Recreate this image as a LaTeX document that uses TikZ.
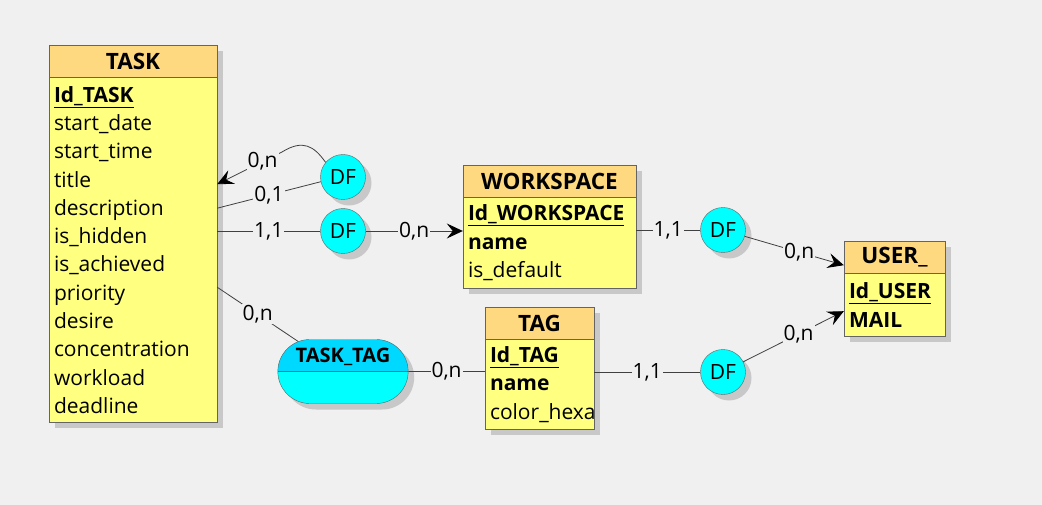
\documentclass[tikz,border=0pt]{standalone}
\usepackage{fontspec}
\setmainfont{Open Sans}
\usetikzlibrary{shapes.misc, arrows.meta, positioning, calc, shadows}
\definecolor{bgcol}{RGB}{240,240,240}
\definecolor{headcol}{RGB}{255,217,128}
\definecolor{bodycol}{RGB}{255,255,128}
\definecolor{edgecol}{RGB}{100,100,100}
\definecolor{shadecol}{RGB}{200,200,200}
\definecolor{dfcol}{RGB}{0,255,255}
\definecolor{assoccol}{RGB}{0,217,255}

\begin{document}
\begin{tikzpicture}[
        x=1pt, y=-1pt,
        shade/.style={drop shadow={shadow xshift=6pt, shadow yshift=-6pt, fill=shadecol, opacity=1}},
        enthead/.style={rectangle, draw=edgecol, fill=headcol, minimum height=32pt, inner sep=0pt, font=\fontsize{22.5}{26}\selectfont\bfseries, shade},
        entbody/.style={rectangle, draw=edgecol, fill=bodycol, anchor=north, inner xsep=5pt, inner ysep=0pt, align=left, font=\fontsize{21}{28.3}\selectfont, shade},
        df/.style={circle, draw=edgecol, fill=dfcol, minimum size=45pt, inner sep=0pt, font=\fontsize{21}{24}\selectfont, shade},
        assoc/.style={rounded rectangle, draw=edgecol, fill=dfcol, minimum width=137pt, minimum height=64pt, shade,
            path picture={\fill[assoccol] (path picture bounding box.north west) rectangle (path picture bounding box.east);
                \draw[edgecol] (path picture bounding box.west) -- (path picture bounding box.east);}},
        link/.style={draw=black!75, line width=0.8pt},
        arr/.style={link, -{Stealth[length=16pt, width=15pt, inset=6pt, black]}},
        card/.style={fill=bgcol, inner sep=1pt, font=\fontsize{21}{24}\selectfont}
    ]
        \fill[bgcol] (0,0) rectangle (1042,505);
        \useasboundingbox (0,0) rectangle (1042,505);
        \node[enthead, minimum width=168pt] (task) at (133,61) {TASK};
        \node[entbody, text width=158pt, minimum height=345pt] (taskbody) at (task.south) {\textbf{\underline{Id\_TASK}}\\start\_date\\start\_time\\title\\description\\is\_hidden\\is\_achieved\\priority\\desire\\concentration\\workload\\deadline};
        \node[enthead, minimum width=173pt] (workspace) at (549.5,181) {WORKSPACE};
        \node[entbody, text width=163pt, minimum height=91pt] (workspacebody) at (workspace.south) {\textbf{\underline{Id\_WORKSPACE}}\\\textbf{name}\\is\_default};
        \node[enthead, minimum width=101pt] (user) at (894.5,257) {USER\_};
        \node[entbody, text width=91pt, minimum height=63pt] (userbody) at (user.south) {\textbf{\underline{Id\_USER}}\\\textbf{MAIL}};
        \node[enthead, minimum width=109pt] (tag) at (539.5,323) {TAG};
        \node[entbody, text width=99pt, minimum height=90pt] (tagbody) at (tag.south) {\textbf{\underline{Id\_TAG}}\\\textbf{name}\\color\_hexa};
        \node[df] (df1) at (343,177) {DF};
        \node[df] (df2) at (343,231) {DF};
        \node[df] (df3) at (723,230) {DF};
        \node[df] (df4) at (723,372) {DF};
        \node[assoc] (tasktag) at (343,371.5) {};
        \node[font=\fontsize{20}{24}\selectfont\bfseries] (tasktagname) at (343,356.5) {TASK\_TAG};
        \draw[arr] (df1.140) .. controls (314,146) and (303,139) .. (282,152) -- node[card, pos=0.3] {0,n} ([yshift=-107pt]taskbody.north east);
        \draw[link] (df1.192) -- node[card] {0,1} ([yshift=-131pt]taskbody.north east);
        \draw[link] (df2) -- node[card] {1,1} (taskbody.east |- df2);
        \draw[arr] (df2) -- node[card] {0,n} (workspacebody.west |- df2);
        \draw[link] (workspacebody.east |- df3) -- node[card] {1,1} (df3);
        \draw[arr] (df3) -- node[card, pos=0.55] {0,n} ([yshift=8pt]user.south west);
        \draw[arr] (df4) -- node[card, pos=0.55] {0,n} ([yshift=-38pt]user.south west);
        \draw[link] (tagbody.east |- df4) -- node[card] {1,1} (df4);
        \draw[link] (tasktag) -- node[card] {0,n} (tagbody.west |- tasktag);
        \draw[link] ([yshift=-210pt]taskbody.north east) -- node[card] {0,n} (tasktag);
    \end{tikzpicture}
\end{document}
